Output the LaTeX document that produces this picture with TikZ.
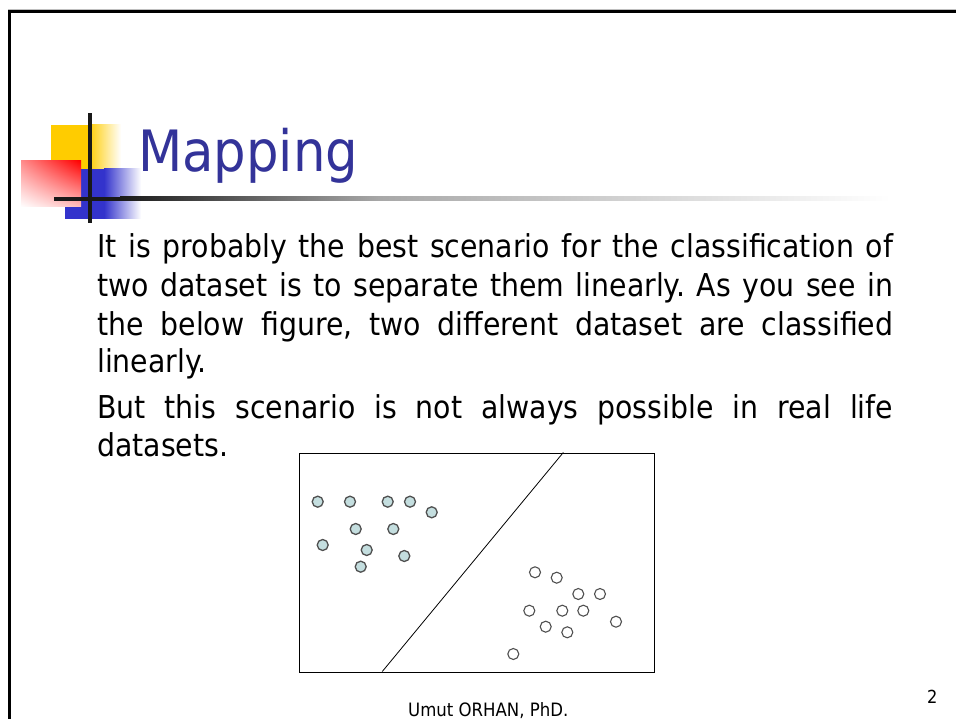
\documentclass[tikz,border=0pt]{standalone}
\usepackage{fontspec}
\usetikzlibrary{shadings}
\setmainfont{DejaVu Sans Condensed}
\frenchspacing
\definecolor{titleblue}{HTML}{333399}
\definecolor{decoyellow}{HTML}{FFCC00}
\definecolor{decoblue}{HTML}{3333CC}
\definecolor{redul}{HTML}{FF8C8C}
\definecolor{redlr}{HTML}{FFBEBE}
\definecolor{linegray}{HTML}{A8A8A8}
\definecolor{dotfill}{HTML}{C4DEDF}
\definecolor{dotline}{HTML}{505050}
\begin{document}
\begin{tikzpicture}[x=1pt,y=-1pt,
  body/.style={anchor=base west, inner sep=0pt, font=\fontsize{31.5}{31.5}\selectfont},
  fdot/.style={circle, draw=dotline, fill=dotfill, line width=1.3pt, minimum size=11pt, inner sep=0pt},
  edot/.style={circle, draw=dotline, fill=white, line width=1.1pt, minimum size=11pt, inner sep=0pt}]
\useasboundingbox (0,0) rectangle (956,719);
\fill[white] (0,0) rectangle (956,719);
% slide frame
\draw[gray!50, line width=0.8pt] (8,9) -- (956,9);
\draw[black, line width=3pt] (9.5,719) -- (9.5,11.5) -- (956,11.5);
% decoration
\fill[decoyellow] (51,125) rectangle (88,169);
\shade[left color=decoyellow, right color=white] (88,125) rectangle (121,169);
\fill[decoblue] (65,169) rectangle (104,219);
\shade[left color=decoblue, right color=white] (104,169) rectangle (141,219);
\shade[upper right=red, upper left=redul, lower left=white, lower right=redlr] (21,161) rectangle (81,207);
\fill[black!90] (88,113) rectangle (92,223);
\fill[black!90] (54,197) rectangle (120,201);
\shade[left color=black!90, right color=linegray] (120,197) rectangle (380,201);
\shade[left color=linegray, right color=white] (380,197) rectangle (890,201);
% title
\node[anchor=base west, inner sep=0pt, text=titleblue, font=\fontsize{57}{57}\selectfont] (title) at (138,172) {Mapping};
% body text
\node[body] (l1) at (97,258) {\makebox[796pt][s]{It is probably the best scenario for the classification of}};
\node[body] (l2) at (97,297) {\makebox[796pt][s]{two dataset is to separate them linearly. As you see in}};
\node[body] (l3) at (97,335.5) {\makebox[796pt][s]{the below figure, two different dataset are classified}};
\node[body] (l4) at (97,372) {linearly.};
\node[body] (l5) at (97,418) {\makebox[796pt][s]{But this scenario is not always possible in real life}};
\node[body] (l6) at (97,456) {datasets.};
% figure
\node[draw=black, line width=1pt, minimum width=355pt, minimum height=219pt, inner sep=0pt, anchor=north west] (fig) at (298.5,452.5) {};
\coordinate (st) at (563.3,452.5);
\coordinate (sb) at (382.3,671.5);
\draw[black, line width=0.8pt] (st) -- (sb);
\node[fdot] (a1) at (317.7,501.7) {};
\node[fdot] (a2) at (350,501.7) {};
\node[fdot] (a3) at (387.7,501.7) {};
\node[fdot] (a4) at (410,501.7) {};
\node[fdot] (a5) at (431.7,512.3) {};
\node[fdot] (a6) at (355.7,529) {};
\node[fdot] (a7) at (393.3,529) {};
\node[fdot] (a8) at (322.7,545) {};
\node[fdot] (a9) at (366.7,550) {};
\node[fdot] (a10) at (404.3,556) {};
\node[fdot] (a11) at (360.7,566.7) {};
\node[edot] (b1) at (535,572.3) {};
\node[edot] (b2) at (556.7,577.7) {};
\node[edot] (b3) at (578.3,594) {};
\node[edot] (b4) at (600,594) {};
\node[edot] (b5) at (529.3,610.7) {};
\node[edot] (b6) at (562.3,610.7) {};
\node[edot] (b7) at (583.3,610.7) {};
\node[edot] (b8) at (616,621.7) {};
\node[edot] (b9) at (545.7,626.7) {};
\node[edot] (b10) at (567.3,632.3) {};
\node[edot] (b11) at (513.3,654) {};
% footer
\node[anchor=base west, inner sep=0pt, font=\fontsize{18.4}{18.4}\selectfont] (footer) at (408,716) {Umut ORHAN, PhD.};
\node[anchor=base west, inner sep=0pt, font=\fontsize{18}{18}\selectfont] (pagenum) at (927,703) {2};
\end{tikzpicture}
\end{document}
